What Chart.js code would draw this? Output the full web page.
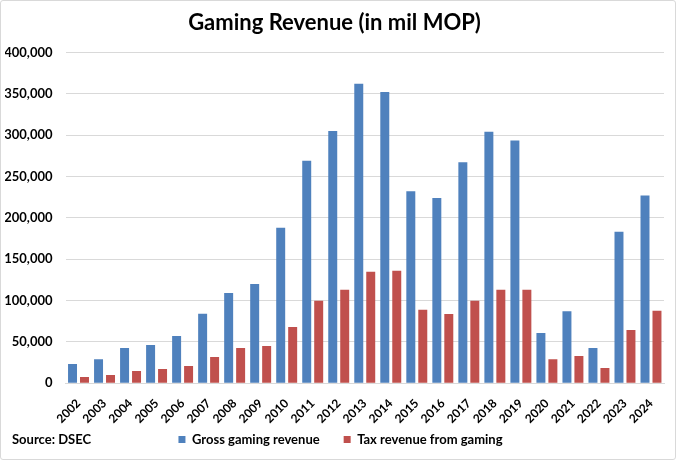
<!DOCTYPE html>
<html>
<head>
<meta charset="utf-8">
<script src="https://cdn.jsdelivr.net/npm/chart.js@4"></script>
<style>
  html, body { margin: 0; padding: 0; background: #fff; }
  #wrap { position: relative; width: 674px; height: 458px; border: 1px solid #d9d9d9; border-radius: 3px; }
  canvas { position: absolute; left: -1px; top: -1px; }
</style>
</head>
<body>
<div id="wrap"><canvas id="chart" width="676" height="460"></canvas></div>
<script>
// data (mil MOP)
const years = ["2002","2003","2004","2005","2006","2007","2008","2009","2010","2011","2012","2013",
               "2014","2015","2016","2017","2018","2019","2020","2021","2022","2023","2024"];
const grossRevenue = [23000, 29000, 42500, 46000, 57000, 84000, 109000, 120000, 188000, 269000, 305000, 362000,
                      352000, 232000, 224000, 267000, 304000, 293500, 60500, 87000, 42500, 183000, 227000];
const taxRevenue = [7300, 9700, 14600, 17000, 20600, 31600, 42500, 45000, 68000, 99500, 113000, 134700,
                    136000, 88600, 83700, 99500, 113000, 113000, 29000, 32800, 18200, 64300, 87400];
const yMax = 400000;
const yStep = 50000;

const FONT = "Lato, 'Open Sans', sans-serif";
const LEGEND_UP = 22;

// "Source: DSEC" note bottom left, and pull the legend up / right a bit
const sourceNote = {
    id: "sourceNote",
    afterLayout(chart) {
        const lg = chart.legend;
        lg.left += 6;
        lg.right += 6;
        lg.top -= LEGEND_UP;
        lg.bottom -= LEGEND_UP;
    },
    afterDraw(chart) {
        const ctx = chart.ctx;
        ctx.save();
        ctx.font = "bold 13px " + FONT;
        ctx.fillStyle = "#000";
        ctx.textBaseline = "middle";
        ctx.fillText("Source: DSEC", 12, 440);
        ctx.restore();
    }
};

new Chart(document.getElementById("chart"), {
    type: "bar",
    data: {
        labels: years,
        datasets: [
            { label: "Gross gaming revenue", data: grossRevenue, backgroundColor: "#4F81BD" },
            { label: "Tax revenue from gaming", data: taxRevenue, backgroundColor: "#C0504D" }
        ]
    },
    options: {
        responsive: false,
        animation: false,
        categoryPercentage: 0.92,
        barPercentage: 0.75,
        layout: { padding: { left: 5, right: 12, top: 6, bottom: 4 - LEGEND_UP } },
        plugins: {
            title: {
                display: true,
                text: "Gaming Revenue (in mil MOP)",
                color: "#000",
                font: { family: FONT, size: 22, weight: "bold" },
                padding: { top: 4, bottom: 16 }
            },
            legend: {
                position: "bottom",
                labels: {
                    color: "#000",
                    boxWidth: 7,
                    boxHeight: 7,
                    padding: 24,
                    font: { family: FONT, size: 13, weight: "bold" }
                }
            },
            tooltip: { enabled: false }
        },
        scales: {
            x: {
                grid: { display: false },
                border: { color: "#d9d9d9" },
                ticks: {
                    color: "#000",
                    maxRotation: 45,
                    minRotation: 45,
                    autoSkip: false,
                    padding: 5,
                    font: { family: FONT, size: 12, weight: "bold" }
                }
            },
            y: {
                min: 0,
                max: yMax,
                afterFit(scale) { scale.width = 60.5; },
                grid: { color: "#d9d9d9", drawTicks: false },
                border: { display: false },
                ticks: {
                    stepSize: yStep,
                    padding: 13,
                    color: "#000",
                    font: { family: FONT, size: 13, weight: "bold" },
                    callback: v => v.toLocaleString("en-US")
                }
            }
        }
    },
    plugins: [sourceNote]
});
</script>
</body>
</html>
